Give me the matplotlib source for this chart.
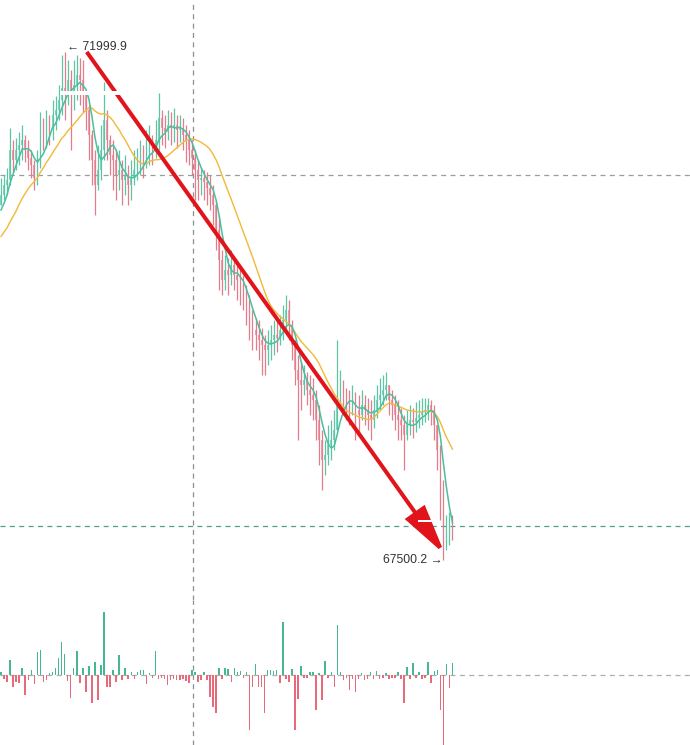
import numpy as np
import matplotlib
matplotlib.use("Agg")
import matplotlib.pyplot as plt
from matplotlib.patches import FancyArrowPatch, Rectangle

# ---------------- data ----------------
prior_closes = [70156, 70112, 70201, 70139,
                70201, 70245, 70139, 70263, 70334, 70289, 70405, 70351, 70467, 70422,
                70529, 70493, 70599, 70644]

closes = [70732, 70821, 70865, 71131, 71042, 71131, 71175, 71220, 71131, 71060,
          70998, 70883, 71042, 71308, 71264, 71326, 71308, 71441, 71485, 71574,
          71680, 71618, 71751, 71645, 71707, 71796, 71751, 71618, 71485, 71264,
          71042, 70821, 70954, 71131, 71397, 71220, 71087, 71042, 70910, 70954,
          70865, 70910, 70821, 70883, 70954, 70998, 71060, 71042, 71131, 71175,
          71131, 71220, 71415, 71326, 71290, 71353, 71326, 71353, 71308, 71326,
          71264, 71220, 71131, 71060, 70954, 70865, 70883, 70848, 70794, 70732,
          70644, 70422, 70156, 69979, 70068, 70024, 70112, 70024, 69979, 69891,
          69846, 69758, 69625, 69536, 69492, 69448, 69403, 69359, 69403, 69448,
          69492, 69465, 69536, 69625, 69713, 69581, 69403, 69182, 69093, 69049,
          69093, 69005, 68960, 68916, 68739, 68562, 68384, 68429, 68517, 68562,
          68650, 68916, 69005, 68916, 68872, 68827, 68916, 68827, 68783, 68872,
          68827, 68783, 68739, 68827, 68916, 68960, 69005, 69049, 68916, 68872,
          68783, 68739, 68695, 68606, 68695, 68739, 68721, 68757, 68783, 68810,
          68827, 68872, 68827, 68695, 68473, 68119, 67676, 67764, 67809, 67782]

highs = [70883, 70910, 70972, 71326, 71220, 71237, 71290, 71353, 71264, 71220,
         71131, 71042, 71131, 71468, 71415, 71485, 71441, 71574, 71609, 71707,
         71973, 71999.9, 71928, 71840, 71928, 71973, 71946, 71928, 71663, 71530,
         71308, 71131, 71175, 71353, 71734, 71485, 71264, 71220, 71131, 71131,
         71042, 71087, 70998, 71042, 71131, 71149, 71220, 71175, 71308, 71353,
         71264, 71397, 71636, 71485, 71441, 71485, 71468, 71503, 71441, 71441,
         71415, 71353, 71308, 71220, 71131, 71042, 70972, 70954, 70936, 70910,
         70821, 70688, 70555, 70245, 70201, 70174, 70245, 70174, 70112, 70112,
         70024, 69935, 69846, 69713, 69643, 69625, 69554, 69492, 69536, 69581,
         69625, 69607, 69669, 69758, 69846, 69802, 69625, 69448, 69315, 69253,
         69226, 69164, 69138, 69111, 69005, 68872, 68650, 68562, 68695, 68739,
         68827, 69448, 69182, 69093, 69022, 69005, 69049, 68987, 68960, 69005,
         68960, 68934, 68916, 68960, 69049, 69111, 69138, 69164, 69049, 69005,
         68960, 68916, 68845, 68783, 68827, 68872, 68845, 68898, 68916, 68934,
         68934, 68934, 68916, 68872, 68695, 68517, 68207, 67897, 67924, 67897]

lows = [70644, 70688, 70732, 70821, 70936, 70954, 70998, 71042, 71025, 70954,
        70883, 70777, 70821, 70972, 71131, 71149, 71175, 71220, 71308, 71397,
        71441, 71397, 71530, 71131, 71485, 71574, 71530, 71468, 71308, 71042,
        70821, 70555, 70777, 70865, 71042, 71042, 70910, 70777, 70688, 70777,
        70644, 70732, 70644, 70688, 70821, 70865, 70910, 70883, 70972, 70998,
        70998, 71060, 71131, 71175, 71149, 71220, 71175, 71202, 71149, 71202,
        71131, 71025, 70998, 70910, 70688, 70688, 70732, 70688, 70644, 70599,
        70467, 70245, 69891, 69846, 69891, 69846, 69935, 69891, 69802, 69758,
        69713, 69581, 69448, 69359, 69359, 69270, 69138, 69138, 69226, 69270,
        69315, 69341, 69403, 69448, 69536, 69448, 69270, 69049, 68562, 68827,
        68960, 68872, 68783, 68739, 68562, 68340, 68119, 68252, 68340, 68384,
        68473, 68650, 68827, 68783, 68739, 68695, 68783, 68562, 68606, 68739,
        68695, 68650, 68562, 68668, 68757, 68827, 68872, 68916, 68783, 68739,
        68650, 68562, 68562, 68296, 68562, 68606, 68579, 68633, 68668, 68695,
        68721, 68739, 68695, 68562, 68296, 67853, 67500.2, 67587, 67631, 67676]

net_volume = [3, -4, -7, 15, -12, -7, -8, 7, -20, -5,
              5, -9, 23, 25, -7, -5, 2, 3, 7, 17,
              33, 21, -6, -23, 7, 24, -8, 7, -17, 9,
              -28, 13, -25, 10, 63, -12, -12, 5, -7, 20,
              -5, 7, -4, 3, -4, 3, 5, 5, -9, 2,
              -3, 24, -4, -3, -4, -10, -5, -4, -5, -5,
              -4, -6, -8, 5, 3, -7, -5, 3, -5, -22,
              -32, -38, 7, -4, 7, 6, -7, 7, 3, 4,
              -3, 3, -55, -12, 11, -12, -12, -38, 5, 5,
              4, 5, -8, 53, -4, -7, 6, -55, -24, 9,
              -3, -3, 3, 3, -35, 2, -25, 14, -3, 3,
              -12, 50, 3, -5, -3, -15, -4, -17, -4, 2,
              -5, -4, 3, -4, 4, -4, -3, 2, -4, -3,
              -3, 3, -4, -28, 8, -4, 12, -3, 3, -4,
              -3, 13, -8, 4, 5, -35, -75, 11, -13, 12]

marker_bar = 63.4          # vertical dashed time marker
grid_price = 70910         # horizontal dashed grid level
last_price_line = 67800    # last-price dashed line
fast_n, slow_n = 5, 18

# ---------------- derived ----------------
closes_a = np.array(closes, float)
highs_a = np.array(highs, float)
lows_a = np.array(lows, float)
opens_a = np.array([prior_closes[-1]] + closes[:-1], float)
vol_a = np.array(net_volume, float)
n = len(closes)
idx = np.arange(n)

allc = np.array(prior_closes + closes, float)
def sma(arr, k):
    return np.convolve(arr, np.ones(k) / k, mode="valid")[-n:]
ma_fast = sma(allc, fast_n)
ma_slow = sma(allc, slow_n)

UP = "#5cc5a6"
DOWN = "#e37c8b"

fig = plt.figure(figsize=(6.9, 7.45), dpi=100)
fig.patch.set_facecolor("white")
ax = fig.add_axes([0, 145 / 745, 1, 600 / 745])
axv = fig.add_axes([0, 0, 1, 145 / 745])
for a in (ax, axv):
    a.set_axis_off()
    a.set_xlim(-0.33, 227.4)
ax.set_ylim(67144, 72460)
axv.set_ylim(-70, 75)

# grid / reference lines
ax.axhline(grid_price, color="#93a09f", lw=0.9, ls=(0, (4, 3.5)), zorder=1)
ax.axhline(last_price_line, color="#4f9e92", lw=0.9, ls=(0, (4, 3.5)), zorder=1)
for a in (ax, axv):
    a.axvline(marker_bar, color="#8a8f93", lw=0.9, ls=(0, (4, 3.5)), zorder=1)
axv.axhline(0, color="#a9afb2", lw=0.9, ls=(0, (4, 3.5)), zorder=1)

# candles
up = closes_a >= opens_a
cols = np.where(up, UP, DOWN)
ax.vlines(idx, lows_a, highs_a, colors=cols, lw=0.9, zorder=2)
body_h = np.where(np.abs(closes_a - opens_a) < 8, 8, closes_a - opens_a)
ax.bar(idx, body_h, bottom=opens_a, width=0.55, color=cols, alpha=0.7,
       linewidth=0, zorder=2)

# moving averages
ax.plot(idx, ma_slow, color="#f2b838", lw=1.0, zorder=3)
ax.plot(idx, ma_fast, color="#49bf9f", lw=1.1, zorder=3)

# arrow from the high to the low
i_hi = int(np.argmax(highs_a))
i_lo = int(np.argmin(lows_a))
arrow = FancyArrowPatch((i_hi + 7.3, highs_a[i_hi]), (i_lo + 0.6, lows_a[i_lo] + 45),
                        arrowstyle="-|>,head_length=3.0,head_width=0.7",
                        mutation_scale=10, color="#e2141b", lw=2.9,
                        joinstyle="miter", capstyle="butt",
                        shrinkA=0, shrinkB=0, zorder=5)
ax.add_patch(arrow)

# thin white strips seen over the chart (label backgrounds)
for (x0, y0, w, h) in [(60 / 690, 1 - 95 / 600, 65 / 690, 3.5 / 600),
                       (418 / 690, 1 - 522 / 600, 21 / 690, 2.5 / 600)]:
    ax.add_patch(Rectangle((x0, y0), w, h, transform=ax.transAxes,
                           facecolor="white", edgecolor="none", zorder=5.5))

# labels
fam = ["Liberation Sans", "DejaVu Sans"]
ax.text(i_hi + 0.8, highs_a[i_hi] + 45, "\u2190 71999.9", ha="left", va="center",
        fontsize=8.7, color="#333333", family=fam, zorder=6)
ax.text(i_lo - 0.3, lows_a[i_lo] - 5, "67500.2 \u2192", ha="right", va="center",
        fontsize=8.7, color="#333333", family=fam, zorder=6)

# net volume histogram
vcols = np.where(vol_a >= 0, "#45b891", "#e66a7a")
axv.bar(idx, vol_a, width=0.5, color=vcols, linewidth=0, zorder=2)

fig.savefig("out.png", dpi=100, facecolor="white")
